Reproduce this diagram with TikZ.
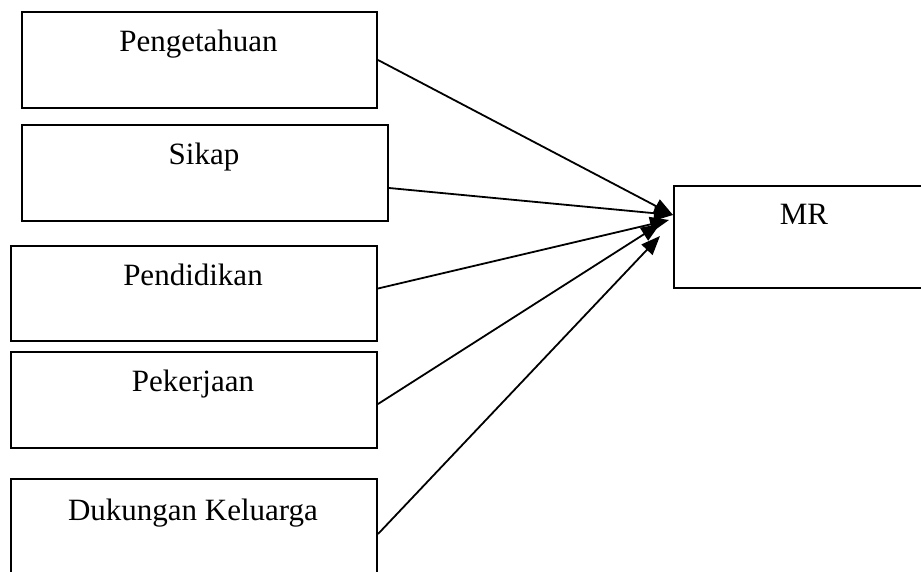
\documentclass[tikz,border=0pt]{standalone}
\usepackage{fontspec}
\setmainfont{Liberation Serif}
\usetikzlibrary{arrows.meta}
\begin{document}
\begin{tikzpicture}[x=1pt,y=-1pt,
  box/.style={draw,line width=2pt,rectangle,anchor=north west,inner sep=0pt},
  lbl/.style={anchor=base,inner sep=0pt,font=\fontsize{31}{37}\selectfont},
  conn/.style={line width=1.8pt,-{Triangle[length=19pt,width=15pt]}}]
\useasboundingbox (0,0) rectangle (921,572);
\begin{scope}
\clip (0,0) rectangle (921,572);
\node[box,minimum width=355pt,minimum height=96pt] (b1) at (21,11) {};
\node[box,minimum width=366pt,minimum height=96pt] (b2) at (21,124) {};
\node[box,minimum width=366pt,minimum height=95pt] (b3) at (10,245) {};
\node[box,minimum width=366pt,minimum height=96pt] (b4) at (10,351) {};
\node[box,minimum width=366pt,minimum height=98pt] (b5) at (10,478) {};
\node[box,minimum width=262pt,minimum height=102pt] (mr) at (673,185) {};
\end{scope}
\node[lbl] (t1) at (198.5,52) {Pengetahuan};
\node[lbl] (t2) at (204,165) {Sikap};
\node[lbl] (t3) at (193,285) {Pendidikan};
\node[lbl] (t4) at (193,391) {Pekerjaan};
\node[lbl] (t5) at (193,520) {Dukungan Keluarga};
\node[lbl] (t6) at (804,225) {MR};
\coordinate (e1) at (673,215);
\coordinate (e3) at (669,220);
\coordinate (e4) at (660,224);
\coordinate (e5) at (660,236);
\draw[conn] (b1.east) -- (e1);
\draw[conn] ([yshift=-15pt]b2.east) -- (e1);
\draw[conn] ([yshift=5pt]b3.east) -- (e3);
\draw[conn] ([yshift=-4pt]b4.east) -- (e4);
\draw[conn] ([yshift=-6pt]b5.east) -- (e5);
\end{tikzpicture}
\end{document}
